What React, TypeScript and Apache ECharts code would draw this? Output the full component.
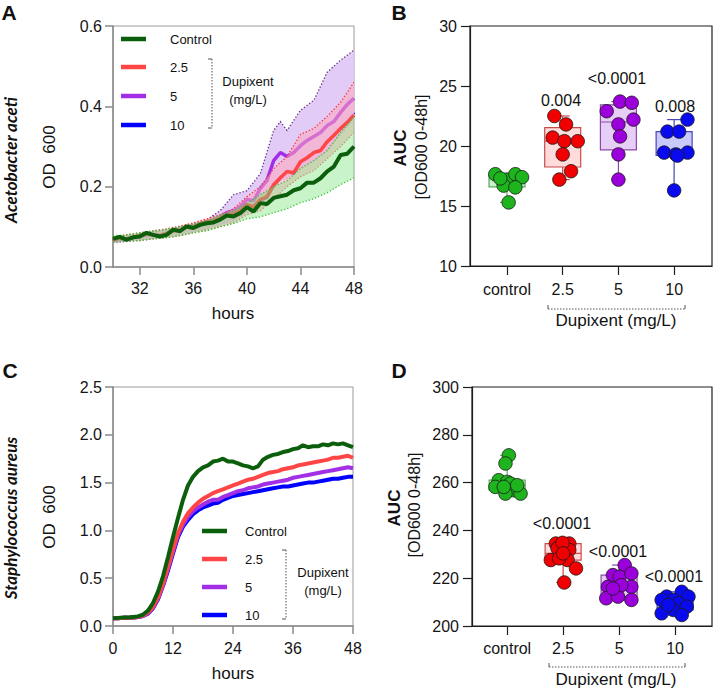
import React, { useEffect, useRef } from "react";
import * as echarts from "echarts";

const FONT = "'Liberation Sans', Arial, Helvetica, sans-serif";

// ---------------- Panel A: Acetobacter aceti, OD600 (30–48 h) ----------------
const hoursA = [30, 30.5, 31, 31.5, 32, 32.5, 33, 33.5, 34, 34.5, 35, 35.5, 36, 36.5, 37, 37.5, 38, 38.5, 39, 39.5, 40, 40.5, 41, 41.5, 42, 42.5, 43, 43.5, 44, 44.5, 45, 45.5, 46, 46.5, 47, 47.5, 48];
const ctrlA = [0.070, 0.075, 0.068, 0.074, 0.076, 0.085, 0.080, 0.076, 0.080, 0.093, 0.089, 0.101, 0.097, 0.105, 0.109, 0.111, 0.118, 0.128, 0.126, 0.134, 0.149, 0.138, 0.159, 0.157, 0.172, 0.176, 0.180, 0.191, 0.196, 0.210, 0.210, 0.221, 0.238, 0.250, 0.279, 0.282, 0.300];
const d25A = [0.068, 0.072, 0.070, 0.073, 0.078, 0.082, 0.080, 0.078, 0.083, 0.090, 0.092, 0.100, 0.100, 0.107, 0.112, 0.115, 0.122, 0.130, 0.132, 0.140, 0.155, 0.150, 0.168, 0.175, 0.205, 0.222, 0.238, 0.234, 0.262, 0.272, 0.285, 0.290, 0.312, 0.328, 0.345, 0.360, 0.378];
const d5A = [0.066, 0.070, 0.068, 0.072, 0.076, 0.080, 0.080, 0.079, 0.084, 0.090, 0.093, 0.100, 0.102, 0.108, 0.113, 0.118, 0.125, 0.135, 0.140, 0.150, 0.168, 0.165, 0.195, 0.215, 0.265, 0.285, 0.275, 0.285, 0.302, 0.315, 0.325, 0.335, 0.352, 0.362, 0.385, 0.405, 0.420];
const d10A = [0.066, 0.071, 0.069, 0.072, 0.077, 0.081, 0.079, 0.077, 0.082, 0.089, 0.091, 0.099, 0.099, 0.106, 0.111, 0.114, 0.121, 0.129, 0.131, 0.139, 0.153, 0.149, 0.166, 0.173, 0.203, 0.220, 0.236, 0.233, 0.260, 0.270, 0.283, 0.289, 0.310, 0.327, 0.345, 0.362, 0.385];
const bandHoursA = [30, 31, 32, 33, 34, 35, 36, 37, 38, 39, 40, 41, 42, 42.5, 43, 44, 45, 46, 47, 48];
const ctrlLoA = [0.062, 0.064, 0.066, 0.070, 0.073, 0.078, 0.085, 0.090, 0.100, 0.108, 0.120, 0.125, 0.135, 0.140, 0.145, 0.160, 0.170, 0.185, 0.205, 0.222];
const ctrlHiA = [0.078, 0.080, 0.085, 0.090, 0.094, 0.100, 0.107, 0.115, 0.128, 0.140, 0.158, 0.180, 0.200, 0.208, 0.215, 0.245, 0.265, 0.290, 0.335, 0.374];
const d25LoA = [0.062, 0.064, 0.066, 0.070, 0.073, 0.078, 0.085, 0.092, 0.100, 0.110, 0.130, 0.140, 0.170, 0.185, 0.200, 0.225, 0.240, 0.270, 0.300, 0.335];
const d25HiA = [0.076, 0.080, 0.085, 0.090, 0.095, 0.102, 0.110, 0.120, 0.130, 0.145, 0.175, 0.200, 0.245, 0.260, 0.275, 0.330, 0.345, 0.375, 0.410, 0.460];
const d5LoA = [0.060, 0.063, 0.066, 0.070, 0.074, 0.080, 0.088, 0.095, 0.105, 0.115, 0.135, 0.160, 0.200, 0.215, 0.220, 0.245, 0.265, 0.290, 0.330, 0.370];
const d5HiA = [0.075, 0.078, 0.083, 0.088, 0.093, 0.100, 0.108, 0.118, 0.140, 0.180, 0.190, 0.232, 0.340, 0.362, 0.340, 0.390, 0.415, 0.485, 0.515, 0.540];
const xTicksA = [32, 36, 40, 44, 48];

// ---------------- Panel C: Staphylococcus aureus, OD600 (0–48 h) ----------------
const hoursC = [0, 1, 2, 3, 4, 5, 6, 7, 8, 9, 10, 11, 12, 13, 14, 15, 16, 17, 18, 19, 20, 21, 22, 23, 24, 25, 26, 27, 28, 29, 30, 31, 32, 33, 34, 35, 36, 37, 38, 39, 40, 41, 42, 43, 44, 45, 46, 47, 48];
const ctrlC = [0.08, 0.085, 0.09, 0.09, 0.095, 0.1, 0.12, 0.16, 0.24, 0.36, 0.52, 0.72, 0.93, 1.13, 1.32, 1.47, 1.56, 1.62, 1.66, 1.68, 1.72, 1.73, 1.75, 1.72, 1.72, 1.70, 1.68, 1.67, 1.65, 1.67, 1.74, 1.77, 1.79, 1.80, 1.82, 1.83, 1.85, 1.86, 1.89, 1.87, 1.88, 1.88, 1.90, 1.89, 1.91, 1.90, 1.91, 1.89, 1.87];
const d25C = [0.08, 0.08, 0.085, 0.085, 0.09, 0.095, 0.11, 0.14, 0.2, 0.3, 0.44, 0.62, 0.8, 0.97, 1.09, 1.18, 1.24, 1.29, 1.33, 1.36, 1.39, 1.41, 1.43, 1.45, 1.47, 1.49, 1.51, 1.53, 1.54, 1.56, 1.58, 1.6, 1.61, 1.62, 1.64, 1.65, 1.66, 1.68, 1.69, 1.7, 1.71, 1.72, 1.73, 1.74, 1.76, 1.76, 1.77, 1.78, 1.76];
const d5C = [0.08, 0.08, 0.085, 0.085, 0.09, 0.095, 0.105, 0.135, 0.19, 0.29, 0.43, 0.6, 0.78, 0.95, 1.06, 1.14, 1.2, 1.24, 1.27, 1.3, 1.32, 1.32, 1.35, 1.37, 1.39, 1.41, 1.42, 1.44, 1.45, 1.46, 1.48, 1.49, 1.5, 1.51, 1.52, 1.53, 1.55, 1.56, 1.57, 1.58, 1.59, 1.6, 1.61, 1.62, 1.63, 1.64, 1.65, 1.66, 1.65];
const d10C = [0.08, 0.08, 0.085, 0.085, 0.09, 0.095, 0.105, 0.13, 0.185, 0.28, 0.42, 0.58, 0.76, 0.93, 1.04, 1.11, 1.17, 1.21, 1.24, 1.26, 1.28, 1.29, 1.32, 1.34, 1.36, 1.37, 1.38, 1.39, 1.4, 1.41, 1.42, 1.43, 1.44, 1.45, 1.46, 1.46, 1.47, 1.48, 1.49, 1.5, 1.5, 1.51, 1.52, 1.53, 1.54, 1.54, 1.55, 1.56, 1.56];

// ---------------- Panels B & D: AUC ----------------
const groupLabels = ["control", "2.5", "5", "10"];
const ctrlB = [17.65, 17.2, 17.65, 17.4, 16.7, 16.55, 15.3, 17.3];
const d25B = [22.5, 21.8, 20.7, 20.4, 20.4, 19.3, 17.9, 17.2];
const d5B = [22.9, 23.7, 23.6, 22.2, 21.8, 20.8, 19.3, 17.2];
const d10B = [22.2, 21.2, 21.2, 19.45, 19.3, 19.45, 19.2, 16.3];
const jitterB = [
  [-0.21, 0, 0.15, 0.27, -0.06, 0.15, 0.03, -0.12],
  [-0.15, 0.06, -0.18, 0.03, 0.27, 0, 0.15, -0.06],
  [-0.21, 0.03, 0.24, 0.27, 0, 0.03, 0, 0],
  [0.24, -0.12, 0.09, -0.18, 0.03, 0.24, 0.06, 0],
];
const pValuesB = ["", "0.004", "<0.0001", "0.008"];

const ctrlD = [271.4, 268, 261, 260.3, 258.2, 259.6, 256.8, 255.4, 255.4, 258.9, 258.2];
const d25D = [234.5, 234.5, 232.5, 231.8, 227.6, 227.6, 228.3, 224.1, 218.2, 234.8, 230.4];
const d5D = [225.5, 221.3, 220.6, 222, 216.4, 216.4, 211.6, 212.3, 210.9, 217.1, 215.7];
const d10D = [214.3, 212.3, 212.3, 210.9, 210.9, 209.5, 208.1, 206.7, 205.3, 204.6, 208.8];
const jitterD = [
  [0.03, -0.03, -0.15, 0, -0.21, 0.06, 0.12, 0.24, -0.03, 0.18, -0.06],
  [-0.13, 0.11, -0.1, 0.11, -0.22, 0.08, -0.07, 0.23, 0.02, -0.01, 0],
  [0.1, -0.11, 0.01, 0.22, -0.2, 0.22, -0.23, -0.02, 0.22, 0.04, -0.11],
  [0.12, -0.15, 0.24, -0.03, -0.24, 0.06, 0.21, -0.03, -0.24, 0.12, -0.12],
];
const pValuesD = ["", "<0.0001", "<0.0001", "<0.0001"];

const seriesNames = ["Control", "2.5", "5", "10"];

// colours
const LINE_COL = ["#0b5e0b", "#ff4545", "#a22ee6", "#0000ff"];
const DOT_COL = ["#1db41d", "#f00000", "#9b00dc", "#0a0aee"];
const BOX_FILL = ["rgba(150,225,150,0.5)", "rgba(255,175,175,0.45)", "rgba(210,165,238,0.55)", "rgba(165,165,250,0.6)"];
const BOX_EDGE = ["#5aaa5a", "#cc4a4a", "#8a4aa8", "#4545bb"];

function quant(sorted: number[], p: number) {
  const n = sorted.length;
  const pos = p * (n + 1);
  if (pos <= 1) return sorted[0];
  if (pos >= n) return sorted[n - 1];
  const lo = Math.floor(pos);
  const f = pos - lo;
  return sorted[lo - 1] + f * (sorted[lo] - sorted[lo - 1]);
}
function boxStats(vals: number[], x: number) {
  const s = [...vals].sort((a, b) => a - b);
  return [x, s[0], quant(s, 0.25), quant(s, 0.5), quant(s, 0.75), s[s.length - 1]];
}

function bandSeries(axisIdx: number, hrs: number[], lo: number[], hi: number[], fill: string, loEdge: string, hiEdge: string, z: number) {
  return {
    type: "custom",
    xAxisIndex: axisIdx,
    yAxisIndex: axisIdx,
    z,
    silent: true,
    clip: true,
    data: [[hrs[0], lo[0]]],
    renderItem: (_p: any, api: any) => {
      const up = hrs.map((h, i) => api.coord([h, hi[i]]));
      const dn = hrs.map((h, i) => api.coord([h, lo[i]]));
      return {
        type: "group",
        children: [
          { type: "polygon", shape: { points: up.concat([...dn].reverse()) }, style: { fill, stroke: null } },
          { type: "polyline", shape: { points: dn }, style: { stroke: loEdge, lineWidth: 1.3, lineDash: [1.3, 2], fill: null } },
          { type: "polyline", shape: { points: up }, style: { stroke: hiEdge, lineWidth: 1.3, lineDash: [1.3, 2], fill: null } },
        ],
      };
    },
  };
}

function lineSeries(axisIdx: number, name: string, hrs: number[], vals: number[], color: string, width: number, z: number) {
  return {
    type: "line",
    name,
    xAxisIndex: axisIdx,
    yAxisIndex: axisIdx,
    z,
    showSymbol: false,
    symbol: "none",
    data: hrs.map((h, i) => [h, vals[i]]),
    lineStyle: { color, width },
    itemStyle: { color },
  };
}

function boxSeries(axisIdx: number, groups: number[][]) {
  const data = groups.map((g, i) => boxStats(g, i + 1));
  return {
    type: "custom",
    xAxisIndex: axisIdx,
    yAxisIndex: axisIdx,
    z: 3,
    silent: true,
    encode: { x: 0, y: [1, 2, 3, 4, 5] },
    data,
    renderItem: (params: any, api: any) => {
      const i = params.dataIndex;
      const x = api.value(0);
      const [cx, yMin] = api.coord([x, api.value(1)]);
      const q1 = api.coord([x, api.value(2)])[1];
      const md = api.coord([x, api.value(3)])[1];
      const q3 = api.coord([x, api.value(4)])[1];
      const yMax = api.coord([x, api.value(5)])[1];
      const hw = 18;
      const cw = 7;
      const edge = BOX_EDGE[i];
      const ls = { stroke: edge, lineWidth: 1.2 };
      return {
        type: "group",
        children: [
          { type: "line", shape: { x1: cx, y1: yMin, x2: cx, y2: q1 }, style: ls },
          { type: "line", shape: { x1: cx, y1: q3, x2: cx, y2: yMax }, style: ls },
          { type: "line", shape: { x1: cx - cw, y1: yMin, x2: cx + cw, y2: yMin }, style: ls },
          { type: "line", shape: { x1: cx - cw, y1: yMax, x2: cx + cw, y2: yMax }, style: ls },
          { type: "rect", shape: { x: cx - hw, y: q3, width: 2 * hw, height: q1 - q3 }, style: { fill: BOX_FILL[i], stroke: edge, lineWidth: 1.2 } },
          { type: "line", shape: { x1: cx - hw, y1: md, x2: cx + hw, y2: md }, style: ls },
        ],
      };
    },
  };
}

function dotSeries(axisIdx: number, groups: number[][], jitter: number[][]) {
  return groups.map((g, gi) => ({
    type: "scatter",
    name: groupLabels[gi],
    xAxisIndex: axisIdx,
    yAxisIndex: axisIdx,
    z: 5,
    symbol: "circle",
    symbolSize: 13.5,
    itemStyle: { color: DOT_COL[gi], borderColor: "#1a1a1a", borderWidth: 0.8, opacity: 1 },
    data: g.map((v, k) => [gi + 1 + jitter[gi][k], v]),
  }));
}

const axisCommon = (color: string, lw: number) => ({
  axisLine: { show: true, onZero: false, lineStyle: { color, width: lw } },
  axisTick: { show: true, inside: false, length: 8, lineStyle: { color, width: lw } },
  splitLine: { show: false },
});

function txt(text: string, x: number, y: number, font: string, align = "center", rot = 0) {
  return {
    type: "text",
    x,
    y,
    rotation: rot,
    z: 100,
    silent: true,
    style: { text, x: 0, y: 0, font, fill: "#111", align, verticalAlign: "middle" },
  };
}
function seg(x1: number, y1: number, x2: number, y2: number, stroke: string, lineWidth: number, dash?: number[]) {
  return { type: "line", z: 100, silent: true, shape: { x1, y1, x2, y2 }, style: { stroke, lineWidth, lineDash: dash } };
}

function buildOption() {
  const gray = "#8a8a8a";
  const dark = "#1e1e1e";
  const tickFont = { fontSize: 16, color: "#151515", fontFamily: FONT };
  const R90 = Math.PI / 2;
  const legendA = [39, 67, 96, 125];
  const legendC = [531, 559, 587, 615];

  const graphic: any[] = [
    txt("A", 9, 12, `bold 21px ${FONT}`),
    txt("B", 399, 12, `bold 21px ${FONT}`),
    txt("C", 10, 370, `bold 21px ${FONT}`),
    txt("D", 399, 370, `bold 21px ${FONT}`),
    txt("Acetobacter aceti", 10, 160, `italic bold 17px Lato, 'Open Sans', sans-serif`, "center", R90),
    txt("Staphylococcus aureus", 10, 518, `italic bold 17px Lato, 'Open Sans', sans-serif`, "center", R90),
    txt("OD  600", 49, 157, `17px ${FONT}`, "center", R90),
    txt("OD  600", 49, 517, `17px ${FONT}`, "center", R90),
    txt("hours", 233, 313, `17px ${FONT}`),
    txt("hours", 233, 673, `17px ${FONT}`),
    txt("AUC", 400, 148, `bold 17px ${FONT}`, "center", R90),
    txt("[OD600 0-48h]", 421, 147, `16px ${FONT}`, "center", R90),
    txt("AUC", 394, 508, `bold 17px ${FONT}`, "center", R90),
    txt("[OD600 0-48h]", 414, 505, `16px ${FONT}`, "center", R90),
    // B p-values
    txt(pValuesB[1], 561, 100, `16px ${FONT}`),
    txt(pValuesB[2], 617, 78, `16px ${FONT}`),
    txt(pValuesB[3], 675, 106, `16px ${FONT}`),
    // D p-values
    txt(pValuesD[1], 562, 523, `16px ${FONT}`),
    txt(pValuesD[2], 618, 551, `16px ${FONT}`),
    txt(pValuesD[3], 674, 576, `16px ${FONT}`),
    // B / D brackets
    seg(548, 309, 685, 309, "#555", 1, [1.5, 1.5]),
    seg(548, 305, 548, 309, "#555", 1),
    seg(685, 305, 685, 309, "#555", 1),
    txt("Dupixent (mg/L)", 616, 320, `17px ${FONT}`),
    seg(549, 667, 685, 667, "#555", 1, [1.5, 1.5]),
    seg(549, 663, 549, 667, "#555", 1),
    seg(685, 663, 685, 667, "#555", 1),
    txt("Dupixent (mg/L)", 616, 679, `17px ${FONT}`),
    // Panel A legend
    seg(212, 59, 212, 128, "#555", 1, [1.5, 1.5]),
    seg(208, 59, 212, 59, "#555", 1),
    seg(208, 128, 212, 128, "#555", 1),
    txt("Dupixent", 248, 81, `13px ${FONT}`),
    txt("(mg/L)", 248, 99, `13px ${FONT}`),
    // Panel C legend
    seg(286, 550, 286, 619, "#555", 1, [1.5, 1.5]),
    seg(282, 550, 286, 550, "#555", 1),
    seg(282, 619, 286, 619, "#555", 1),
    txt("Dupixent", 323, 572, `13px ${FONT}`),
    txt("(mg/L)", 323, 590, `13px ${FONT}`),
  ];
  seriesNames.forEach((n, i) => {
    graphic.push(seg(121, legendA[i], 146, legendA[i], LINE_COL[i], 4.5));
    graphic.push(txt(n, 170, legendA[i], `13px ${FONT}`, "left"));
    graphic.push(seg(202, legendC[i], 227, legendC[i], LINE_COL[i], 4.5));
    graphic.push(txt(n, 245, legendC[i], `13px ${FONT}`, "left"));
  });

  const series: any[] = [
    // Panel A
    lineSeries(0, "10", hoursA, d10A, LINE_COL[3], 3, 1),
    bandSeries(0, bandHoursA, d5LoA, d5HiA, "rgba(224,200,247,0.95)", "#c7a3ea", "#5e2a82", 2),
    lineSeries(0, "5", hoursA, d5A, LINE_COL[2], 3.5, 3),
    bandSeries(0, bandHoursA, d25LoA, d25HiA, "rgba(255,165,190,0.55)", "#ff5a5a", "#ff3030", 4),
    lineSeries(0, "2.5", hoursA, d25A, LINE_COL[1], 3.5, 5),
    bandSeries(0, bandHoursA, ctrlLoA, ctrlHiA, "rgba(120,225,120,0.4)", "#3cc43c", "#3cc43c", 6),
    lineSeries(0, "Control", hoursA, ctrlA, LINE_COL[0], 4, 7),
    // Panel C
    lineSeries(2, "10", hoursC, d10C, LINE_COL[3], 4, 2),
    lineSeries(2, "5", hoursC, d5C, LINE_COL[2], 4, 3),
    lineSeries(2, "2.5", hoursC, d25C, LINE_COL[1], 4, 4),
    lineSeries(2, "Control", hoursC, ctrlC, LINE_COL[0], 4, 5),
    // Panel B
    boxSeries(1, [ctrlB, d25B, d5B, d10B]),
    ...dotSeries(1, [ctrlB, d25B, d5B, d10B], jitterB),
    // Panel D
    boxSeries(3, [ctrlD, d25D, d5D, d10D]),
    ...dotSeries(3, [ctrlD, d25D, d5D, d10D], jitterD),
  ];

  const catFormatter = (v: number) => groupLabels[Math.round(v) - 1] ?? "";

  return {
    animation: false,
    backgroundColor: "#ffffff",
    textStyle: { fontFamily: FONT },
    grid: [
      { left: 113, top: 26, width: 241, height: 241, show: true, borderColor: "#9a9a9a", borderWidth: 1, backgroundColor: "transparent" },
      { left: 470, top: 26, width: 242, height: 240, show: true, borderColor: dark, borderWidth: 1.2, backgroundColor: "transparent" },
      { left: 113, top: 387, width: 240, height: 239, show: true, borderColor: "#9a9a9a", borderWidth: 1, backgroundColor: "transparent" },
      { left: 472, top: 387, width: 240, height: 239, show: true, borderColor: dark, borderWidth: 1.2, backgroundColor: "transparent" },
    ],
    xAxis: [
      {
        type: "value", gridIndex: 0, min: 30, max: 48,
        ...axisCommon(gray, 1.5),
        axisTick: { show: true, length: 8, customValues: xTicksA, lineStyle: { color: gray, width: 1.5 } },
        axisLabel: { ...tickFont, margin: 13, customValues: xTicksA },
      },
      {
        type: "value", gridIndex: 1, min: 0.336, max: 4.68,
        ...axisCommon(dark, 1.2),
        axisTick: { show: true, length: 9, customValues: [1, 2, 3, 4], lineStyle: { color: dark, width: 1.2 } },
        axisLabel: { ...tickFont, margin: 15, customValues: [1, 2, 3, 4], formatter: catFormatter },
      },
      {
        type: "value", gridIndex: 2, min: 0, max: 48, interval: 12,
        ...axisCommon(gray, 1.5),
        axisLabel: { ...tickFont, margin: 14 },
      },
      {
        type: "value", gridIndex: 3, min: 0.372, max: 4.66,
        ...axisCommon(dark, 1.2),
        axisTick: { show: true, length: 9, customValues: [1, 2, 3, 4], lineStyle: { color: dark, width: 1.2 } },
        axisLabel: { ...tickFont, margin: 14, customValues: [1, 2, 3, 4], formatter: catFormatter },
      },
    ],
    yAxis: [
      {
        type: "value", gridIndex: 0, min: 0, max: 0.6, interval: 0.2,
        ...axisCommon(gray, 1.5),
        axisLabel: { ...tickFont, margin: 11, formatter: (v: number) => v.toFixed(1) },
      },
      {
        type: "value", gridIndex: 1, min: 10, max: 30, interval: 5,
        ...axisCommon(dark, 1.2),
        axisTick: { show: true, length: 9, lineStyle: { color: dark, width: 1.2 } },
        axisLabel: { ...tickFont, margin: 13 },
      },
      {
        type: "value", gridIndex: 2, min: 0, max: 2.5, interval: 0.5,
        ...axisCommon(gray, 1.5),
        axisLabel: { ...tickFont, margin: 11, formatter: (v: number) => v.toFixed(1) },
      },
      {
        type: "value", gridIndex: 3, min: 200, max: 300, interval: 20,
        ...axisCommon(dark, 1.2),
        axisTick: { show: true, length: 9, lineStyle: { color: dark, width: 1.2 } },
        axisLabel: { ...tickFont, margin: 13 },
      },
    ],
    series,
    graphic,
  };
}

export default function App() {
  const ref = useRef<HTMLDivElement>(null);
  useEffect(() => {
    if (!ref.current) return;
    const chart = echarts.init(ref.current, null, { renderer: "svg" });
    chart.setOption(buildOption() as any);
    return () => chart.dispose();
  }, []);
  return (
    <div
      ref={ref}
      style={{ position: "fixed", left: 0, top: 0, width: 714, height: 689, background: "#fff" }}
    />
  );
}
